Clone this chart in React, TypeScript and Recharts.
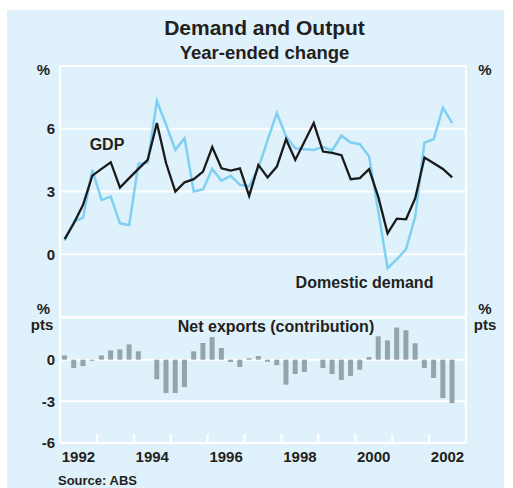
import { LineChart, Line, BarChart, Bar, XAxis, YAxis, CartesianGrid } from "recharts";

// quarterly, Mar-1992 to Sep-2002
const startYear = 1992;
const quarters = Array.from(
  { length: 43 },
  (_, i) => `${startYear + Math.floor(i / 4)}Q${(i % 4) + 1}`
);

const gdp = [
  0.72, 1.48, 2.36, 3.76, 4.08, 4.4, 3.19, 3.64, 4.08, 4.51, 6.27, 4.35, 3.0,
  3.44, 3.59, 3.95, 5.12, 4.11, 4.0, 4.11, 2.79, 4.27, 3.67, 4.19, 5.5, 4.51,
  5.39, 6.27, 4.91, 4.85, 4.74, 3.59, 3.64, 4.07, 2.73, 1.0, 1.7, 1.67, 2.68,
  4.62, 4.35, 4.08, 3.68,
];

const domesticDemand = [
  0.65, 1.56, 1.75, 4.03, 2.6, 2.76, 1.48, 1.4, 4.32, 4.38, 7.33, 6.19, 4.99,
  5.55, 3.0, 3.1, 4.08, 3.52, 3.75, 3.32, 3.25, 4.11, 5.47, 6.75, 5.63, 5.07,
  5.02, 4.99, 5.12, 4.96, 5.67, 5.34, 5.26, 4.67, 2.04, -0.67, -0.24, 0.24, 1.8,
  5.34, 5.5, 7.01, 6.27,
];

const netExports = [
  0.31, -0.6, -0.46, -0.08, 0.31, 0.67, 0.74, 1.1, 0.6, 0, -1.41, -2.4, -2.4,
  -1.97, 0.6, 1.2, 1.63, 0.84, -0.17, -0.53, 0.1, 0.26, -0.15, -0.4, -1.8,
  -1.03, -0.89, 0, -0.6, -1.03, -1.46, -1.17, -0.72, 0.19, 1.68, 1.39, 2.31,
  2.12, 1.18, -0.6, -1.32, -2.77, -3.13,
];

const yearLabels = [1992, 1994, 1996, 1998, 2000, 2002];
const yearBreaks = [1993, 1994, 1995, 1996, 1997, 1998, 1999, 2000, 2001, 2002];
const topTicks = [-3, 0, 3, 6, 9];
const bottomTicks = [-6, -3, 0, 3];

const toTime = (q: string) =>
  Number(q.slice(0, 4)) + (Number(q.slice(5)) - 0.5) / 4;

const rows = quarters.map((q, i) => ({
  q,
  t: toTime(q),
  gdp: gdp[i],
  dd: domesticDemand[i],
  nx: netExports[i],
}));

const xTicks = [...yearLabels.map((y) => y + 0.5), ...yearBreaks].sort(
  (a, b) => a - b
);

const font = "'Liberation Sans', Arial, Helvetica, sans-serif";
const ink = "#231f20";
const tickStyle = { fill: ink, fontSize: 15, fontWeight: 700, fontFamily: font };
const frame = { stroke: "#fff", strokeWidth: 2 };

// year labels sit mid-year, short white marks at the year breaks
const YearTick = (props: any) => {
  const { x, y, payload } = props;
  const v = payload.value as number;
  if (Number.isInteger(v)) {
    return <line x1={x} x2={x} y1={y - 8} y2={y - 17} stroke="#fff" strokeWidth={2} />;
  }
  return (
    <text x={x} y={y} dy="0.71em" textAnchor="middle" {...tickStyle}>
      {Math.floor(v)}
    </text>
  );
};

const App = () => {
  const txt = { fill: ink, fontWeight: 700, fontFamily: font } as const;
  return (
    <div
      style={{
        position: "absolute",
        left: 0,
        top: 0,
        width: 513,
        height: 488,
        background: "#fff",
      }}
    >
      <div
        style={{
          position: "absolute",
          left: 7,
          top: 10,
          width: 497,
          height: 478,
          background: "#dff1fa",
        }}
      />

      {/* top panel: year-ended growth */}
      <div style={{ position: "absolute", left: 0, top: 0 }}>
        <LineChart
          width={513}
          height={488}
          data={rows}
          margin={{ top: 66, right: 0, bottom: 171, left: 0 }}
        >
          <CartesianGrid vertical={false} stroke="#fff" strokeWidth={2} />
          <XAxis dataKey="t" type="number" domain={[1992, 2003]} hide />
          <YAxis
            domain={[-3, 9]}
            ticks={topTicks}
            width={60}
            tickLine={false}
            tickSize={0}
            tickMargin={5}
            axisLine={frame}
            tick={tickStyle}
            tickFormatter={(v) => (v === -3 || v === 9 ? "" : String(v))}
          />
          <YAxis
            yAxisId="r"
            orientation="right"
            domain={[-3, 9]}
            ticks={topTicks}
            width={47}
            tickLine={false}
            tickSize={0}
            tickMargin={11}
            axisLine={frame}
            tick={tickStyle}
            tickFormatter={(v) => (v === -3 || v === 9 ? "" : String(v))}
          />
          <Line
            type="linear"
            dataKey="dd"
            stroke="#7fd0f2"
            strokeWidth={2.5}
            dot={false}
            isAnimationActive={false}
          />
          <Line
            type="linear"
            dataKey="gdp"
            stroke="#1a1a1a"
            strokeWidth={2.3}
            dot={false}
            isAnimationActive={false}
          />
        </LineChart>
      </div>

      {/* bottom panel: net exports contribution */}
      <div style={{ position: "absolute", left: 0, top: 0 }}>
        <BarChart
          width={513}
          height={488}
          data={rows}
          margin={{ top: 318, right: 0, bottom: 0, left: 0 }}
        >
          <CartesianGrid vertical={false} stroke="#fff" strokeWidth={2} />
          <XAxis
            dataKey="t"
            type="number"
            domain={[1992, 2003]}
            ticks={xTicks}
            interval={0}
            height={45}
            tickLine={false}
            tickSize={0}
            tickMargin={8}
            axisLine={frame}
            tick={YearTick}
          />
          <YAxis
            domain={[-6, 3]}
            ticks={bottomTicks}
            width={60}
            tickLine={false}
            tickSize={0}
            tickMargin={5}
            axisLine={frame}
            tick={tickStyle}
            tickFormatter={(v) => (v === 3 ? "" : String(v))}
          />
          <YAxis
            yAxisId="r"
            orientation="right"
            domain={[-6, 3]}
            ticks={bottomTicks}
            width={47}
            tickLine={false}
            tickSize={0}
            tickMargin={11}
            axisLine={frame}
            tick={tickStyle}
            tickFormatter={(v) => (v === 3 ? "" : String(v))}
          />
          <Bar dataKey="nx" fill="#95a4ac" barSize={5} isAnimationActive={false} />
        </BarChart>
      </div>

      <svg
        width={513}
        height={488}
        style={{ position: "absolute", left: 0, top: 0, pointerEvents: "none" }}
      >
        <text x={264.5} y={35} textAnchor="middle" fontSize={21} {...txt}>
          Demand and Output
        </text>
        <text x={264.5} y={59} textAnchor="middle" fontSize={18.5} {...txt}>
          Year-ended change
        </text>
        <text x={43.5} y={75} textAnchor="middle" fontSize={15} {...txt}>%</text>
        <text x={485} y={75} textAnchor="middle" fontSize={15} {...txt}>%</text>
        <text x={43.5} y={313.5} textAnchor="middle" fontSize={15} {...txt}>%</text>
        <text x={42} y={330} textAnchor="middle" fontSize={15} {...txt}>pts</text>
        <text x={485} y={313.5} textAnchor="middle" fontSize={15} {...txt}>%</text>
        <text x={485} y={330} textAnchor="middle" fontSize={15} {...txt}>pts</text>
        <text x={107} y={150} textAnchor="middle" fontSize={16} {...txt}>GDP</text>
        <text x={364.5} y={288} textAnchor="middle" fontSize={16} {...txt}>
          Domestic demand
        </text>
        <text x={276} y={331.5} textAnchor="middle" fontSize={16} {...txt}>
          Net exports (contribution)
        </text>
        <text x={58} y={485} fontSize={13} {...txt}>Source: ABS</text>
      </svg>
    </div>
  );
};

export default App;
